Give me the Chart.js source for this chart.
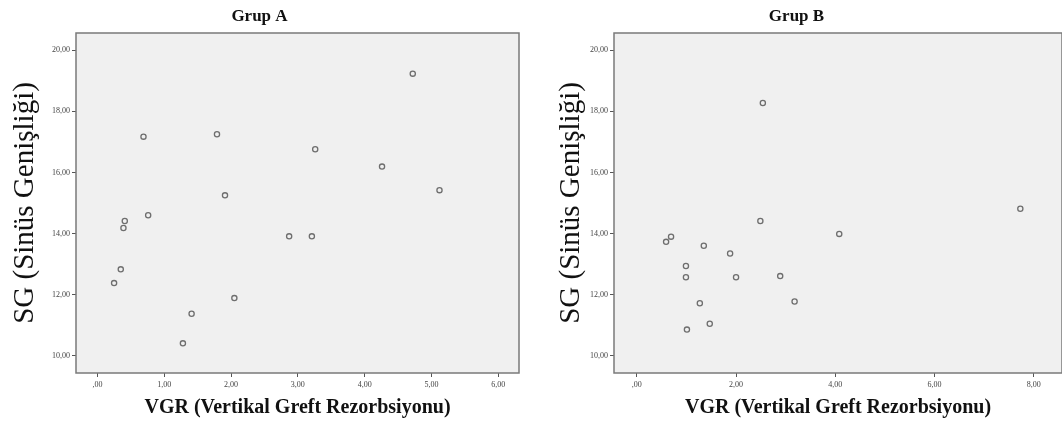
<!DOCTYPE html>
<html>
<head>
<meta charset="utf-8">
<script src="https://cdn.jsdelivr.net/npm/chart.js@4"></script>
<style>
  body { margin: 0; background: #fff; overflow: hidden; }
  .wrap { position: absolute; top: 0; width: 531px; height: 427px; overflow: hidden; }
</style>
</head>
<body>
<div class="wrap" style="left:0"><canvas id="chartA" width="531" height="427"></canvas></div>
<div class="wrap" style="left:531px"><canvas id="chartB" width="531" height="427"></canvas></div>
<script>
// Grup A: VGR (x) / SG (y)
const vgrA = [4.72, 0.69, 1.79, 3.26, 4.26, 1.91, 5.12, 0.76, 0.41, 0.39, 2.87, 3.21, 0.35, 0.25, 2.05, 1.41, 1.28];
const sgA  = [19.23, 17.17, 17.25, 16.76, 16.19, 15.25, 15.42, 14.6, 14.41, 14.18, 13.91, 13.91, 12.83, 12.38, 11.89, 11.38, 10.41];
// Grup B
const vgrB = [2.54, 7.73, 2.49, 4.08, 0.69, 0.59, 1.35, 1.88, 0.99, 0.99, 2.0, 2.89, 1.27, 3.18, 1.47, 1.01];
const sgB  = [18.27, 14.81, 14.41, 13.99, 13.9, 13.73, 13.6, 13.35, 12.94, 12.57, 12.57, 12.61, 11.72, 11.78, 11.05, 10.86];

const yTicks = [10, 12, 14, 16, 18, 20];
const xTicksA = [0, 1, 2, 3, 4, 5, 6];
const xTicksB = [0, 2, 4, 6, 8];

const serif = "'Liberation Serif', 'Times New Roman', serif";

function fmt(v) {
  return v === 0 ? ",00" : v.toFixed(2).replace(".", ",");
}

// grey plot background + frame
const plotBox = {
  id: "plotBox",
  beforeDraw(chart) {
    const { ctx, chartArea: a } = chart;
    ctx.save();
    ctx.fillStyle = "#f0f0f0";
    ctx.fillRect(a.left, a.top, a.right - a.left, a.bottom - a.top);
    ctx.restore();
  },
  afterDraw(chart) {
    const { ctx, chartArea: a } = chart;
    ctx.save();
    ctx.strokeStyle = "#7a7a7a";
    ctx.lineWidth = 1.5;
    ctx.strokeRect(a.left, a.top, a.right - a.left, a.bottom - a.top);
    ctx.restore();
  }
};

function makeChart(id, title, xs, ys, xTicks, xMin, xMax, yAxisW, yTitlePad, padRight) {
  const pts = xs.map((x, i) => ({ x: x, y: ys[i] }));
  return new Chart(document.getElementById(id), {
    type: "scatter",
    data: {
      datasets: [{
        data: pts,
        pointStyle: "circle",
        pointRadius: 2.6,
        pointBorderWidth: 1.3,
        pointBorderColor: "#6e6e6e",
        pointBackgroundColor: "rgba(0,0,0,0)",
        clip: false
      }]
    },
    options: {
      responsive: false,
      animation: false,
      layout: { autoPadding: false, padding: { left: 0, right: padRight, top: 0, bottom: 0 } },
      plugins: {
        legend: { display: false },
        tooltip: { enabled: false },
        title: {
          display: true,
          text: title,
          color: "#111",
          font: { family: serif, size: 17, weight: "bold", lineHeight: 1.2 },
          padding: { top: 6, bottom: 6.6 }
        }
      },
      scales: {
        x: {
          type: "linear",
          min: xMin,
          max: xMax,
          afterBuildTicks: (axis) => { axis.ticks = xTicks.map(v => ({ value: v })); },
          afterFit: (axis) => {
            axis.height = 54;
            axis.paddingLeft = 0;
            axis.paddingRight = 0;
          },
          border: { display: false },
          grid: { drawOnChartArea: false, drawTicks: true, tickLength: 4, color: "#555" },
          ticks: {
            callback: fmt,
            padding: 3,
            maxRotation: 0,
            color: "#444",
            font: { family: serif, size: 8 }
          },
          title: {
            display: true,
            text: "VGR (Vertikal Greft Rezorbsiyonu)",
            color: "#111",
            font: { family: serif, size: 20, weight: "bold", lineHeight: 1.2 },
            padding: { top: 0, bottom: 7 }
          }
        },
        y: {
          type: "linear",
          min: 9.44,
          max: 20.56,
          afterBuildTicks: (axis) => { axis.ticks = yTicks.map(v => ({ value: v })); },
          afterFit: (axis) => { axis.width = yAxisW; },
          border: { display: false },
          grid: { drawOnChartArea: false, drawTicks: true, tickLength: 4, color: "#555" },
          ticks: {
            callback: fmt,
            padding: 2,
            color: "#444",
            font: { family: serif, size: 8 }
          },
          title: {
            display: true,
            text: "SG (Sinüs Genişliği)",
            color: "#111",
            font: { family: serif, size: 29, lineHeight: 1.2 },
            padding: { top: yTitlePad, bottom: 0 }
          }
        }
      }
    },
    plugins: [plotBox]
  });
}

makeChart("chartA", "Grup A", vgrA, sgA, xTicksA, -0.32, 6.31, 76, 7.6, 12);
makeChart("chartB", "Grup B", vgrB, sgB, xTicksB, -0.46, 8.57, 83, 22.6, 0);
</script>
</body>
</html>
